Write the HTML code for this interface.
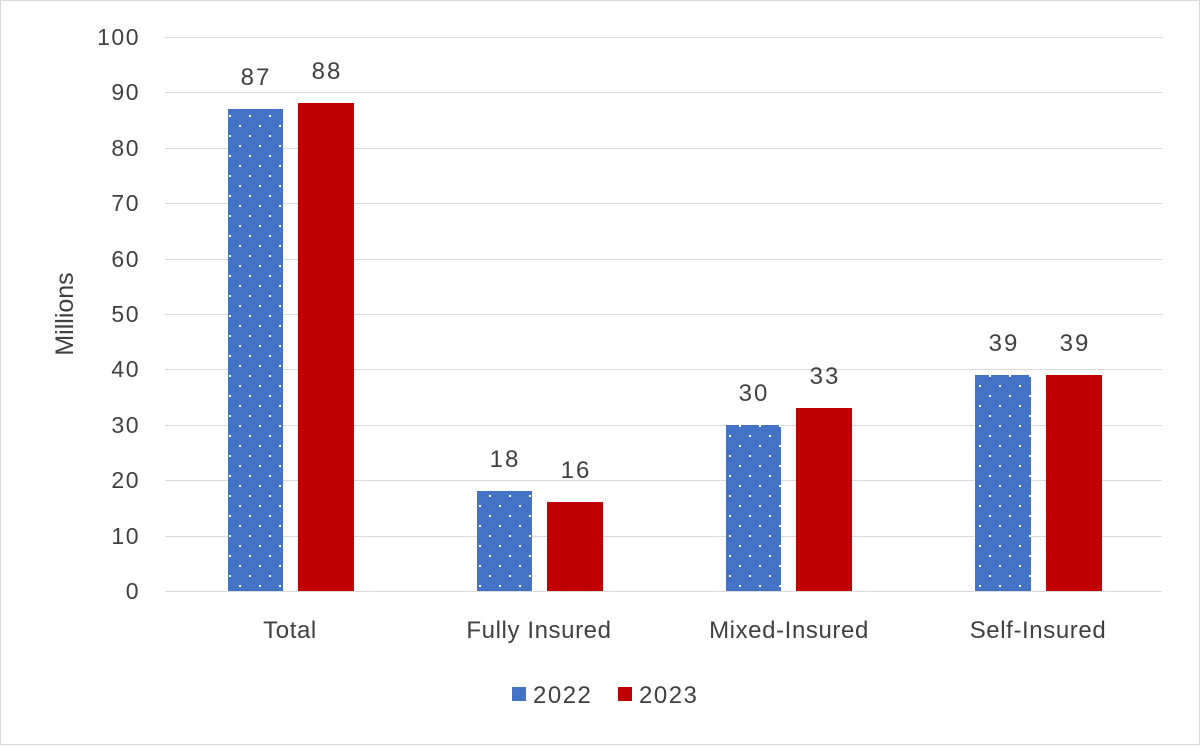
<!DOCTYPE html>
<html><head><style>
body{margin:0;background:#fff}
text{font-family:"Liberation Sans",sans-serif;fill:#404040}
</style></head><body>
<svg width="1200" height="745" xmlns="http://www.w3.org/2000/svg">
<defs>
<pattern id="dots" x="227" y="0" width="20" height="20" patternUnits="userSpaceOnUse">
<rect width="20" height="20" fill="#4472C4"/>
<rect x="12" y="5" width="2" height="2" fill="#fff"/>
<rect x="2" y="15" width="2" height="2" fill="#fff"/>
</pattern>
</defs>
<rect x="0.5" y="0.5" width="1199" height="744" fill="#fff" stroke="#d9d9d9"/>
<g stroke="#d9d9d9" stroke-width="1">
<line x1="165" x2="1162" y1="37.5" y2="37.5"/><line x1="165" x2="1162" y1="92.5" y2="92.5"/>
<line x1="165" x2="1162" y1="148.5" y2="148.5"/><line x1="165" x2="1162" y1="203.5" y2="203.5"/>
<line x1="165" x2="1162" y1="259.5" y2="259.5"/><line x1="165" x2="1162" y1="314.5" y2="314.5"/>
<line x1="165" x2="1162" y1="369.5" y2="369.5"/><line x1="165" x2="1162" y1="425.5" y2="425.5"/>
<line x1="165" x2="1162" y1="480.5" y2="480.5"/><line x1="165" x2="1162" y1="536.5" y2="536.5"/>
<line x1="165" x2="1162" y1="591.5" y2="591.5"/>
</g>
<g font-size="23" text-anchor="end" letter-spacing="1.5">
<text x="140" y="45">100</text><text x="140" y="100">90</text><text x="140" y="156">80</text>
<text x="140" y="211">70</text><text x="140" y="267">60</text><text x="140" y="322">50</text>
<text x="140" y="377">40</text><text x="140" y="433">30</text><text x="140" y="488">20</text>
<text x="140" y="544">10</text><text x="140" y="599">0</text>
</g>
<text transform="translate(73,314) rotate(-90)" font-size="25" text-anchor="middle">Millions</text>
<rect x="228" y="109" width="55" height="482" fill="url(#dots)"/>
<rect x="298" y="103" width="56" height="488" fill="#C00000"/>
<rect x="477" y="491" width="55" height="100" fill="url(#dots)"/>
<rect x="547" y="502" width="56" height="89" fill="#C00000"/>
<rect x="726" y="425" width="55" height="166" fill="url(#dots)"/>
<rect x="796" y="408" width="56" height="183" fill="#C00000"/>
<rect x="975" y="375" width="56" height="216" fill="url(#dots)"/>
<rect x="1046" y="375" width="56" height="216" fill="#C00000"/>
<g font-size="24" text-anchor="middle" letter-spacing="2">
<text x="256" y="85">87</text><text x="327" y="79">88</text>
<text x="505" y="467">18</text><text x="576" y="478">16</text>
<text x="754" y="401">30</text><text x="825" y="384">33</text>
<text x="1004" y="351">39</text><text x="1075" y="351">39</text>
</g>
<g font-size="24" text-anchor="middle" letter-spacing="0.6">
<text x="290" y="638">Total</text><text x="539" y="638">Fully Insured</text>
<text x="789" y="638">Mixed-Insured</text><text x="1038" y="638">Self-Insured</text>
</g>
<rect x="512" y="687" width="14" height="14" fill="url(#dots)"/>
<text x="533" y="703" font-size="24" letter-spacing="1.5">2022</text>
<rect x="618" y="687" width="14" height="14" fill="#C00000"/>
<text x="639" y="703" font-size="24" letter-spacing="1.5">2023</text>
</svg>
</body></html>
